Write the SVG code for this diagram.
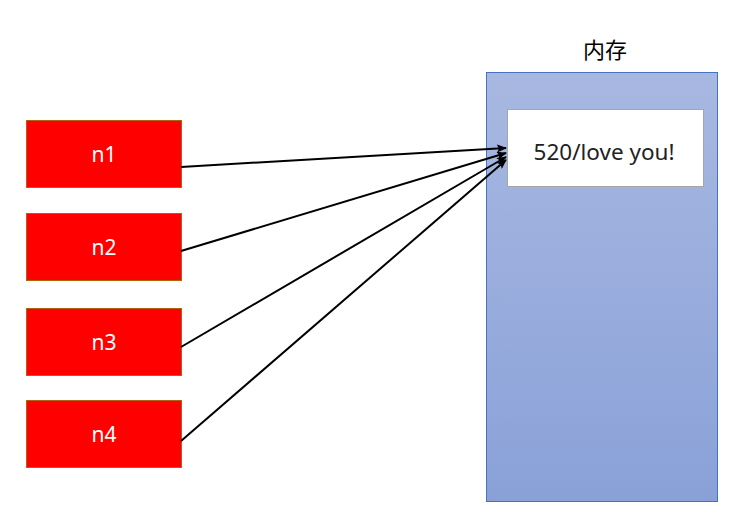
<svg xmlns="http://www.w3.org/2000/svg" width="741" height="516" viewBox="0 0 741 516">
<style>
.n rect{fill:#ff0000;stroke:#b4610c;stroke-width:1}
.n text{fill:#ffffff;font-family:"Noto Sans","Liberation Sans",sans-serif;font-size:21px;text-anchor:middle}
.c line{stroke:#000;stroke-width:2;marker-end:url(#ah)}
</style>
<defs>
<linearGradient id="g" x1="0" y1="0" x2="0" y2="1">
<stop offset="0" stop-color="#a8b8e1"/>
<stop offset="1" stop-color="#8aa1d8"/>
</linearGradient>
<marker id="ah" markerWidth="10" markerHeight="8" refX="9" refY="4" orient="auto" markerUnits="userSpaceOnUse">
<path d="M0,0 L10,4 L0,8 L2,4 Z" fill="#000"/>
</marker>
</defs>
<rect width="741" height="516" fill="#fff"/>
<g id="memory">
<rect x="486.5" y="72.5" width="231" height="429" fill="url(#g)" stroke="#4472c4" stroke-width="1"/>
<text x="605" y="58" font-family="Noto Sans CJK SC,sans-serif" font-size="22" text-anchor="middle" fill="#000">内存</text>
</g>
<g id="value">
<rect x="507.5" y="109.5" width="196" height="77" fill="#fff" stroke="#a6a6a6" stroke-width="1"/>
<text x="604" y="160" font-family="Noto Sans,Liberation Sans,sans-serif" font-size="22.5" text-anchor="middle" fill="#222">520/love you!</text>
</g>
<g id="n1" class="n"><rect x="26.5" y="120.5" width="155" height="67"/><text x="104" y="162">n1</text></g>
<g id="n2" class="n"><rect x="26.5" y="213.5" width="155" height="67"/><text x="104" y="255">n2</text></g>
<g id="n3" class="n"><rect x="26.5" y="308.5" width="155" height="67"/><text x="104" y="350">n3</text></g>
<g id="n4" class="n"><rect x="26.5" y="400.5" width="155" height="67"/><text x="104" y="442">n4</text></g>
<g id="connectors" class="c">
<line x1="181" y1="167" x2="506" y2="148"/>
<line x1="181" y1="251" x2="506" y2="153"/>
<line x1="181" y1="347" x2="506" y2="157"/>
<line x1="181" y1="441" x2="506" y2="160"/>
</g>
</svg>
